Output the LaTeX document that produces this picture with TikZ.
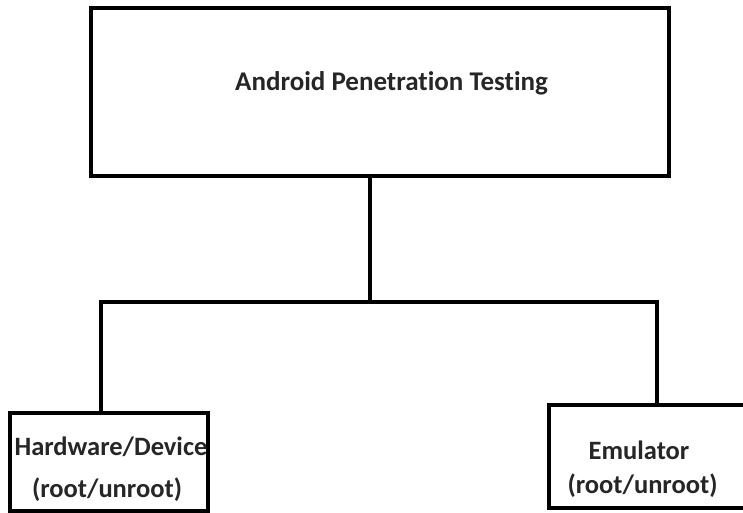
\documentclass[tikz,border=0pt]{standalone}
\usepackage{fontspec}
\setmainfont{Carlito}[Ligatures=NoCommon]
\begin{document}
\begin{tikzpicture}[x=1pt,y=-1pt,
  boxstyle/.style={draw=black,line width=3.5pt,fill=white,inner sep=0pt},
  lbl/.style={font=\fontsize{26.5}{30}\selectfont\bfseries,text=black!85,inner sep=0pt},
  link/.style={draw=black,line width=3.5pt}]
\useasboundingbox[fill=white] (0,0) rectangle (743,513);
% boxes
\node[boxstyle,minimum width=578pt,minimum height=168pt] (top) at (380,92) {};
\node[boxstyle,minimum width=198pt,minimum height=98pt] (hw) at (109,462) {};
\begin{scope}
\clip (0,0) rectangle (743,513);
\node[boxstyle,minimum width=240pt,minimum height=103pt] (em) at (669,456.5) {};
\end{scope}
% texts
\node[lbl,font=\fontsize{27}{30}\selectfont\bfseries] (t1) at (391.5,83) {Android Penetration Testing};
\node[lbl] (t2) at (111,447) {Hardware/Device};
\node[lbl] (t3) at (107,490) {(root/unroot)};
\node[lbl] (t4) at (639,450) {Emulator};
\node[lbl] (t5) at (642.5,486) {(root/unroot)};
% connectors
\coordinate (j) at (370,302);
\coordinate (lj) at (101,302);
\coordinate (rj) at (657,302);
\draw[link] (top.south -| j) -- (j);
\draw[link,line cap=rect] (lj) -- (rj);
\draw[link] (lj) -- (lj |- hw.north);
\draw[link] (rj) -- (rj |- em.north);
\end{tikzpicture}
\end{document}
